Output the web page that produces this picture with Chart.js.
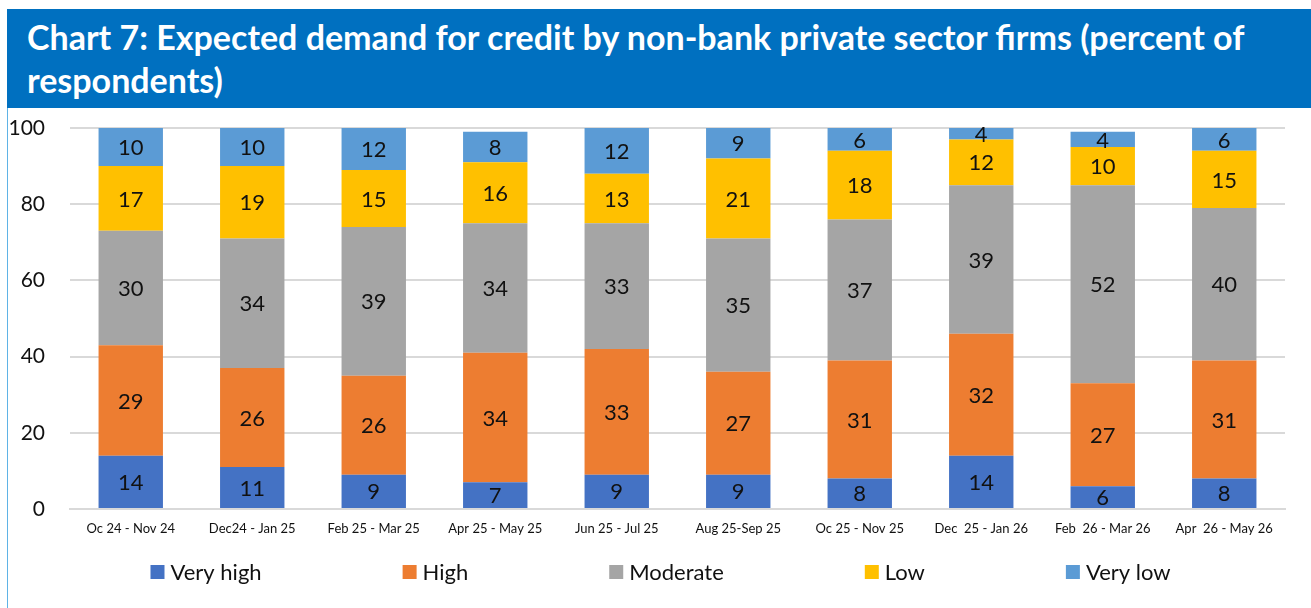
<!DOCTYPE html>
<html>
<head>
<meta charset="utf-8">
<script src="https://cdn.jsdelivr.net/npm/chart.js@4.4.1/dist/chart.umd.min.js"></script>
<style>
  html, body { margin: 0; padding: 0; background: #fff; }
  body { width: 1311px; height: 608px; position: relative; overflow: hidden; font-family: Lato, "Noto Sans", sans-serif; }
  #banner {
    position: absolute; left: 7px; top: 9px; width: 1304px; height: 99px;
    background: #0070C0; color: #fff; box-sizing: border-box;
    padding: 6px 0 0 20px; font-weight: 700; font-size: 34px; line-height: 43px;
  }
  #box {
    position: absolute; left: 7px; top: 108px; width: 1310px; height: 510px;
    border-left: 1px solid #5fb3e6; box-sizing: border-box;
  }
  #wrap { position: absolute; left: 0; top: 0; width: 1303px; height: 500px; }
</style>
</head>
<body>
<div id="banner">Chart 7: Expected demand for credit by non-bank private sector firms (percent of respondents)</div>
<div id="box"><div id="wrap"><canvas id="demandChart"></canvas></div></div>
<script>
// Survey periods
const periods = [
  'Oc 24 - Nov 24', 'Dec24 - Jan 25', 'Feb 25 - Mar 25', 'Apr 25 - May 25', 'Jun 25 - Jul 25',
  'Aug 25-Sep 25', 'Oc 25 - Nov 25', 'Dec  25 - Jan 26', 'Feb  26 - Mar 26', 'Apr  26 - May 26'
];

// Share of respondents per answer (percent)
const veryHigh = [14, 11, 9, 7, 9, 9, 8, 14, 6, 8];
const high     = [29, 26, 26, 34, 33, 27, 31, 32, 27, 31];
const moderate = [30, 34, 39, 34, 33, 35, 37, 39, 52, 40];
const low      = [17, 19, 15, 16, 13, 21, 18, 12, 10, 15];
const veryLow  = [10, 10, 12, 8, 12, 9, 6, 4, 4, 6];

const yTicks = [0, 20, 40, 60, 80, 100];

const FONT = 'Lato, "Noto Sans", sans-serif';

// Value labels centred in each visible segment
const segmentLabels = {
  id: 'segmentLabels',
  afterDatasetsDraw(chart) {
    const { ctx, chartArea } = chart;
    ctx.save();
    ctx.font = '22px ' + FONT;
    ctx.fillStyle = '#111';
    ctx.textAlign = 'center';
    ctx.textBaseline = 'middle';
    chart.data.datasets.forEach((ds, di) => {
      const meta = chart.getDatasetMeta(di);
      if (meta.hidden) return;
      meta.data.forEach((bar, i) => {
        const top = Math.max(bar.y, chartArea.top);
        const bottom = Math.min(bar.base, chartArea.bottom);
        ctx.fillText(String(ds.data[i]), bar.x, (top + bottom) / 2 + 1);
      });
    });
    ctx.restore();
  }
};

// Wide-spaced legend row under the axis
const bottomLegend = {
  id: 'bottomLegend',
  afterDraw(chart) {
    const { ctx, chartArea } = chart;
    const box = 14, gap = 6, spacing = 141;
    ctx.save();
    ctx.font = '22px ' + FONT;
    ctx.textBaseline = 'middle';
    const items = chart.data.datasets.map(ds => ({
      text: ds.label, color: ds.backgroundColor, w: box + gap + ctx.measureText(ds.label).width
    }));
    const total = items.reduce((s, it) => s + it.w, 0) + spacing * (items.length - 1);
    let x = chart.width / 2 + 1 - total / 2;
    const y = chartArea.bottom + 63;
    items.forEach(it => {
      ctx.fillStyle = it.color;
      ctx.fillRect(x, y - box / 2, box, box);
      ctx.fillStyle = '#111';
      ctx.fillText(it.text, x + box + gap, y + 1);
      x += it.w + spacing;
    });
    ctx.restore();
  }
};

const series = [
  { label: 'Very high', data: veryHigh, color: '#4472C4' },
  { label: 'High',      data: high,     color: '#ED7D31' },
  { label: 'Moderate',  data: moderate, color: '#A5A5A5' },
  { label: 'Low',       data: low,      color: '#FFC000' },
  { label: 'Very low',  data: veryLow,  color: '#5B9BD5' }
];

new Chart(document.getElementById('demandChart'), {
  type: 'bar',
  data: {
    labels: periods,
    datasets: series.map(s => ({
      label: s.label,
      data: s.data,
      backgroundColor: s.color,
      borderWidth: 0,
      categoryPercentage: 1,
      barPercentage: 0.53
    }))
  },
  options: {
    responsive: true,
    maintainAspectRatio: false,
    animation: false,
    layout: { padding: { top: 20, right: 26, bottom: 59, left: 0 } },
    plugins: {
      legend: { display: false },
      tooltip: { enabled: false }
    },
    scales: {
      x: {
        stacked: true,
        grid: { display: false, drawTicks: false },
        border: { color: '#d9d9d9', width: 2 },
        ticks: { font: { family: FONT, size: 13 }, color: '#111', padding: 12, maxRotation: 0, autoSkip: false },
        afterFit: s => { s.height = 40; }
      },
      y: {
        stacked: true,
        min: 0,
        max: 100,
        afterBuildTicks: s => { s.ticks = yTicks.map(v => ({ value: v })); },
        grid: { color: '#d9d9d9', lineWidth: 2, drawTicks: false },
        border: { display: false },
        ticks: { font: { family: FONT, size: 21 }, color: '#111', padding: 25 },
        afterFit: s => { s.width = 62; s.paddingTop = 0; s.paddingBottom = 0; }
      }
    }
  },
  plugins: [segmentLabels, bottomLegend]
});
</script>
</body>
</html>
